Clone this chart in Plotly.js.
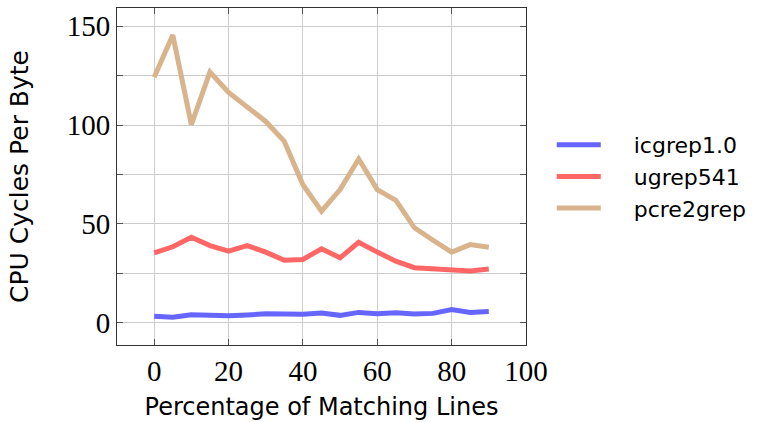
<!DOCTYPE html>
<html>
<head>
<meta charset="utf-8">
<script src="https://cdn.plot.ly/plotly-3.0.1.min.js"></script>
<style>html,body{margin:0;padding:0;background:#fff;}#chart{width:760px;height:422px;}</style>
</head>
<body>
<div id="chart"></div>
<script>
const pct = [0, 5, 10, 15, 20, 25, 30, 35, 40, 45, 50, 55, 60, 65, 70, 75, 80, 85, 90];
const icgrep = [3.2, 2.7, 4.0, 3.7, 3.5, 3.9, 4.5, 4.4, 4.2, 4.9, 3.7, 5.2, 4.5, 5.0, 4.4, 4.7, 6.6, 5.2, 5.6];
const ugrep = [35.3, 38.4, 43.2, 39.0, 36.2, 39.0, 35.7, 31.6, 32.0, 37.4, 32.8, 40.7, 35.7, 31.1, 27.8, 27.1, 26.6, 26.1, 27.1];
const pcre2 = [124.2, 145.5, 100.2, 126.8, 116.5, 109.4, 101.8, 91.7, 69.8, 56.4, 67.3, 82.8, 67.3, 61.9, 48.0, 41.7, 35.7, 39.5, 38.2];
const seriesNames = ['icgrep1.0', 'ugrep541', 'pcre2grep'];
const xTicks = [0, 20, 40, 60, 80, 100];
const yTicks = [0, 25, 50, 75, 100, 125, 150];
const yTickText = ['0', '', '50', '', '100', '', '150'];

const colors = ['#6666ff', '#ff6666', '#d9b38c'];
const ys = [icgrep, ugrep, pcre2];
const pad = '\u00a0\u00a0\u00a0\u00a0';
const traces = ys.map((y, i) => ({
  x: pct, y: y, type: 'scatter', mode: 'lines', name: pad + seriesNames[i],
  line: {color: colors[i], width: 5}
}));

const tickFont = {family: 'Liberation Serif, serif', size: 29, color: '#000'};
const sansFont = {family: 'DejaVu Sans, sans-serif', size: 24, color: '#000'};

const layout = {
  width: 760, height: 422,
  margin: {l: 117, r: 232, t: 8, b: 77},
  paper_bgcolor: '#fff', plot_bgcolor: '#fff',
  showlegend: true,
  legend: {x: 1.063, xanchor: 'left', y: 0.5, yanchor: 'middle',
    font: {family: 'DejaVu Sans, sans-serif', size: 22, color: '#000'},
    bgcolor: 'rgba(0,0,0,0)', tracegroupgap: 0, itemwidth: 44, borderwidth: 0},
  xaxis: {
    range: [-10, 100], tickvals: xTicks, ticktext: xTicks.map(String),
    showgrid: true, gridcolor: '#cccccc', gridwidth: 1,
    ticks: 'inside', ticklen: 6, tickcolor: '#555', tickwidth: 1,
    showline: true, linecolor: '#333', linewidth: 1, mirror: 'ticks',
    zeroline: false, tickfont: tickFont,
    title: {text: 'Percentage of Matching Lines', font: sansFont, standoff: 12}
  },
  yaxis: {
    range: [-11.3, 159.2], tickvals: yTicks, ticktext: yTickText,
    showgrid: true, gridcolor: '#cccccc', gridwidth: 1,
    ticks: 'inside', ticklen: 6, tickcolor: '#555', tickwidth: 1,
    showline: true, linecolor: '#333', linewidth: 1, mirror: 'ticks',
    zeroline: false, tickfont: tickFont,
    title: {text: 'CPU Cycles Per Byte', font: {family: 'DejaVu Sans, sans-serif', size: 25, color: '#000'}, standoff: 30}
  }
};

Plotly.newPlot('chart', traces, layout, {displayModeBar: false, staticPlot: true});
</script>
</body>
</html>
